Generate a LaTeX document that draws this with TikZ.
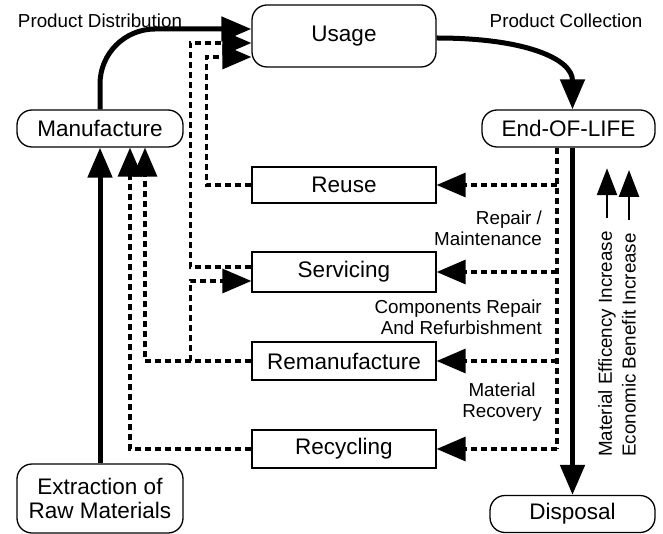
\documentclass[tikz,border=0pt]{standalone}
\usepackage{fontspec}
\setmainfont{Liberation Sans}
\usetikzlibrary{arrows.meta,positioning}

\begin{document}
\begin{tikzpicture}[x=1pt,y=-1pt,
  stage/.style={draw, line width=1.3pt, rounded corners=15pt, minimum width=166pt, minimum height=37pt, inner sep=0pt, font=\fontsize{22.5}{24.5}\selectfont},
  act/.style={draw, line width=1.3pt, minimum width=184pt, minimum height=38pt, inner sep=0pt, font=\fontsize{22.5}{24.5}\selectfont},
  lbl/.style={inner sep=0pt, font=\fontsize{18.8}{21}\selectfont},
  flow/.style={line width=5pt, -{Triangle[length=30pt,width=24pt]}},
  back/.style={line width=3.2pt, dash pattern=on 6pt off 4pt, -{Triangle[length=29pt,width=24pt]}},
  rise/.style={line width=2.5pt, -{Triangle[length=27pt,width=20pt]}}]
  \useasboundingbox (0,0) rectangle (663,534);
  % life cycle stages
  \node[stage, minimum width=184pt, minimum height=62pt] (usage) at (344,36) {Usage};
  \node[stage] (manuf) at (100,128.5) {Manufacture};
  \node[stage, minimum width=173pt] (eol) at (568.5,128.5) {End-OF-LIFE};
  \node[stage, minimum height=69pt, align=center] (extract) at (100,498.5) {Extraction of\\Raw Materials};
  \node[stage, minimum width=165pt] (disposal) at (572.5,514) {Disposal};
  % recovery loops
  \node[act, minimum height=36pt] (reuse) at (344,185) {Reuse};
  \node[act, minimum height=40pt] (servicing) at (344,272) {Servicing};
  \node[act] (reman) at (344,361) {Remanufacture};
  \node[act] (recycling) at (344,449) {Recycling};
  % labels
  \node[lbl] (pdist) at (100,21) {Product Distribution};
  \node[lbl] (pcoll) at (566,21) {Product Collection};
  \node[lbl, align=right, anchor=east] (repair) at (542,228) {Repair /\\Maintenance};
  \node[lbl, align=right, anchor=east] (refurb) at (542,317) {Components Repair\\And Refurbishment};
  \node[lbl, align=center] (recovery) at (502,402) {Material\\Recovery};
  \node[lbl, rotate=90, anchor=west] (eff) at (607,457) {Material Efficency Increase};
  \node[lbl, rotate=90, anchor=west] (econ) at (629,457) {Economic Benefit Increase};
  \draw[rise] ([yshift=13pt]eff.east) -- ([yshift=63pt]eff.east);
  \draw[rise] ([yshift=13pt]econ.east) -- ([yshift=63pt]econ.east);
  % main flow
  \coordinate (u1) at ([yshift=7pt]usage.west);
  \coordinate (u2) at ([yshift=-7pt]usage.west);
  \coordinate (u3) at ([yshift=-21pt]usage.west);
  \draw[flow, rounded corners=55pt] (manuf.north) |- (u1);
  \draw[flow] ([yshift=-2pt]usage.east) .. controls +(90,0) and +(0,-50) .. (disposal.north |- eol.north);
  \draw[flow] (extract.north) -- (manuf.south);
  \draw[flow] (disposal.north |- eol.south) -- (disposal.north);
  % end-of-life options
  \coordinate (bus) at ([xshift=-11.5pt]eol.south);
  \draw[back, -] (bus) -- (bus |- recycling.east);
  \foreach \n in {reuse,servicing,reman,recycling}
    \draw[back] (bus |- \n.east) -- (\n.east);
  % returns to earlier stages
  \draw[back] (reuse.west) -| ([xshift=-45pt]u3) -- (u3);
  \draw[back] ([yshift=5pt]servicing.west) -| ([xshift=-61pt]u2) -- (u2);
  \draw[back] ([xshift=-61pt]reman.west) |- ([yshift=-9pt]servicing.west);
  \draw[back] (reman.west) -| ([xshift=45pt]manuf.south);
  \draw[back] (recycling.west) -| ([xshift=30pt]manuf.south);
\end{tikzpicture}
\end{document}
